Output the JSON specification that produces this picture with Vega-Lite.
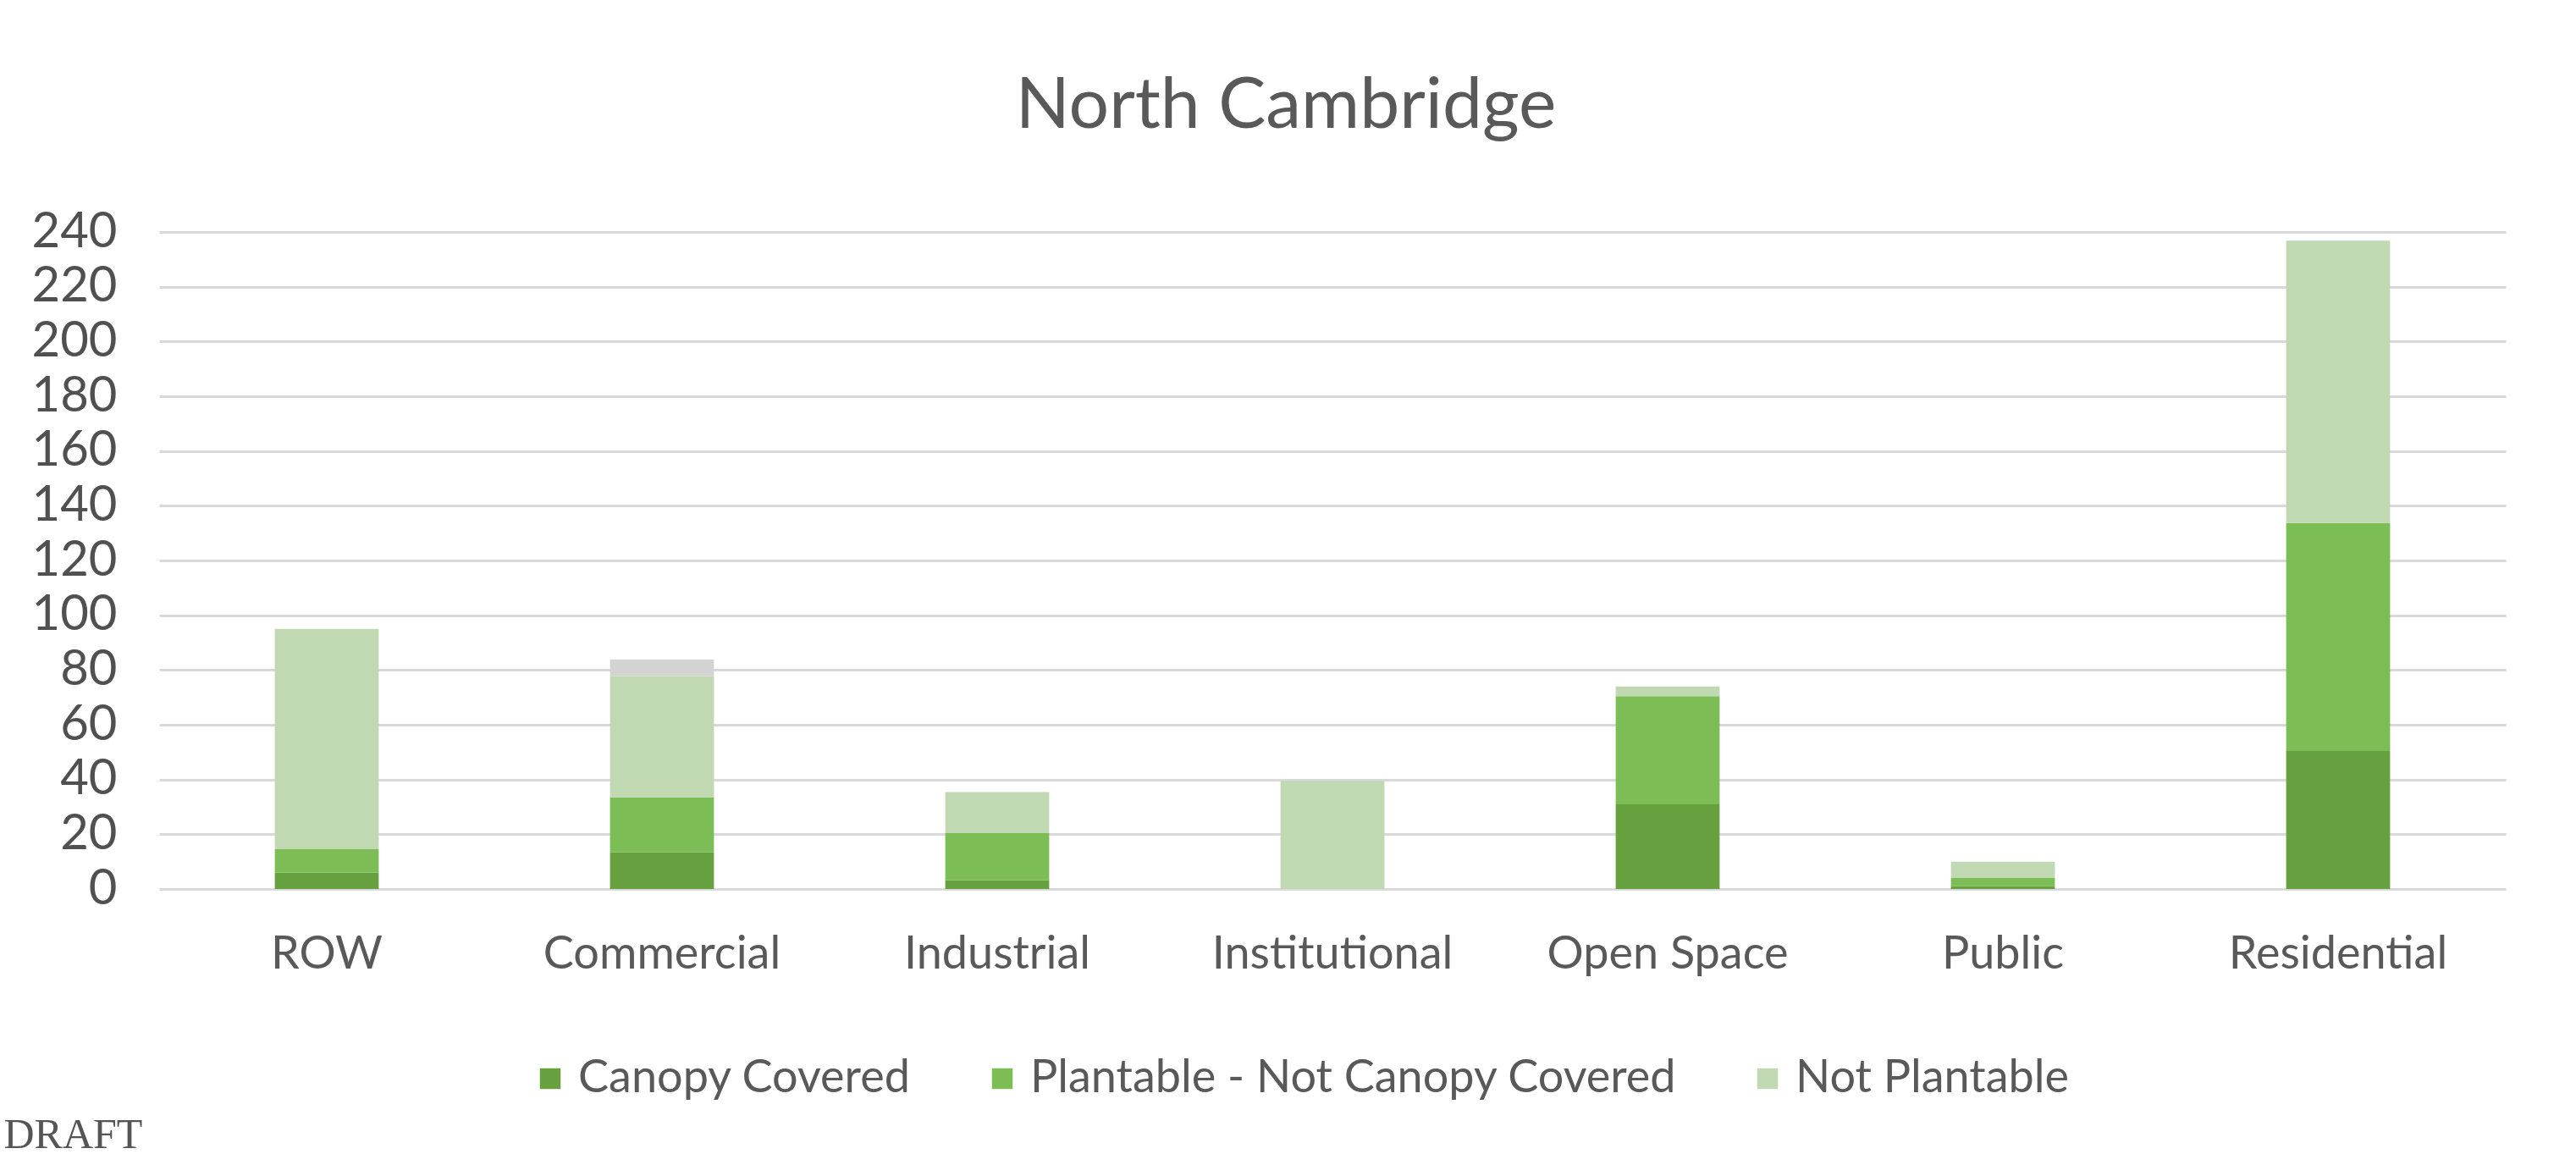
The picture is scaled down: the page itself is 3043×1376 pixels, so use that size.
{
  "$schema": "https://vega.github.io/schema/vega-lite/v6.json",
  "autosize": "none",
  "width": 2772,
  "height": 776,
  "padding": {"left": 188, "top": 274, "right": 83, "bottom": 326},
  "background": "white",
  "title": {
    "text": "North Cambridge",
    "anchor": "middle",
    "frame": "group",
    "dx": -55,
    "offset": 76,
    "font": "Lato",
    "fontSize": 84,
    "fontWeight": "normal",
    "color": "#595959"
  },
  "data": {
    "values": [
      {"use": "ROW", "cover": "Canopy Covered", "rank": 1, "acres": 6},
      {"use": "ROW", "cover": "Plantable - Not Canopy Covered", "rank": 2, "acres": 8.5},
      {"use": "ROW", "cover": "Not Plantable", "rank": 3, "acres": 80.5},
      {"use": "Commercial", "cover": "Canopy Covered", "rank": 1, "acres": 13.4},
      {"use": "Commercial", "cover": "Plantable - Not Canopy Covered", "rank": 2, "acres": 20.1},
      {"use": "Commercial", "cover": "Not Plantable", "rank": 3, "acres": 44.3},
      {"use": "Commercial", "cover": "Other", "rank": 4, "acres": 6},
      {"use": "Industrial", "cover": "Canopy Covered", "rank": 1, "acres": 3.2},
      {"use": "Industrial", "cover": "Plantable - Not Canopy Covered", "rank": 2, "acres": 17.2},
      {"use": "Industrial", "cover": "Not Plantable", "rank": 3, "acres": 15},
      {"use": "Institutional", "cover": "Canopy Covered", "rank": 1, "acres": 0},
      {"use": "Institutional", "cover": "Plantable - Not Canopy Covered", "rank": 2, "acres": 0},
      {"use": "Institutional", "cover": "Not Plantable", "rank": 3, "acres": 39.5},
      {"use": "Open Space", "cover": "Canopy Covered", "rank": 1, "acres": 30.9},
      {"use": "Open Space", "cover": "Plantable - Not Canopy Covered", "rank": 2, "acres": 39.5},
      {"use": "Open Space", "cover": "Not Plantable", "rank": 3, "acres": 3.6},
      {"use": "Public", "cover": "Canopy Covered", "rank": 1, "acres": 1},
      {"use": "Public", "cover": "Plantable - Not Canopy Covered", "rank": 2, "acres": 3},
      {"use": "Public", "cover": "Not Plantable", "rank": 3, "acres": 6},
      {"use": "Residential", "cover": "Canopy Covered", "rank": 1, "acres": 50.4},
      {"use": "Residential", "cover": "Plantable - Not Canopy Covered", "rank": 2, "acres": 83.3},
      {"use": "Residential", "cover": "Not Plantable", "rank": 3, "acres": 103.1}
    ]
  },
  "layer": [
    {
      "mark": {"type": "bar"},
      "encoding": {
        "x": {
          "field": "use",
          "type": "nominal",
          "sort": ["ROW", "Commercial", "Industrial", "Institutional", "Open Space", "Public", "Residential"],
          "scale": {"paddingInner": 0.69, "paddingOuter": 0.345},
          "axis": {
            "title": "DRAFT",
            "titleAnchor": "start",
            "titleAlign": "left",
            "titleBaseline": "alphabetic",
            "titleX": -184,
            "titleY": 305,
            "titleFont": "Liberation Serif",
            "titleFontSize": 50,
            "titleFontWeight": "normal",
            "titleColor": "#555555",
            "labelAngle": 0,
            "ticks": false,
            "domain": false,
            "labelPadding": 50,
            "labelLimit": 1000,
            "labelFont": "Lato",
            "labelFontSize": 54,
            "labelColor": "#595959"
          }
        },
        "y": {
          "field": "acres",
          "type": "quantitative",
          "stack": "zero",
          "scale": {"domain": [0, 240], "nice": false},
          "axis": {
            "title": null,
            "values": [0, 20, 40, 60, 80, 100, 120, 140, 160, 180, 200, 220, 240],
            "ticks": false,
            "domain": false,
            "labelPadding": 50,
            "labelFont": "Lato",
            "labelFontSize": 58,
            "labelColor": "#505050",
            "gridColor": "#d9d9d9",
            "gridWidth": 3
          }
        },
        "color": {
          "field": "cover",
          "type": "nominal",
          "sort": ["Canopy Covered", "Plantable - Not Canopy Covered", "Not Plantable", "Other"],
          "scale": {
            "domain": ["Canopy Covered", "Plantable - Not Canopy Covered", "Not Plantable", "Other"],
            "range": ["#67a03f", "#7cbd55", "#c1d9b2", "#d3d3d3"]
          },
          "legend": {
            "title": null,
            "values": ["Canopy Covered", "Plantable - Not Canopy Covered", "Not Plantable"],
            "orient": "none",
            "direction": "horizontal",
            "legendX": 435,
            "legendY": 973,
            "symbolType": "square",
            "symbolSize": 600,
            "symbolStrokeWidth": 0,
            "labelFont": "Lato",
            "labelFontSize": 54,
            "labelColor": "#595959",
            "labelOffset": 6,
            "columnPadding": 80,
            "labelLimit": 1000
          }
        },
        "order": {"field": "rank", "type": "quantitative", "sort": "ascending"}
      }
    }
  ],
  "config": {
    "view": {"stroke": null}
  }
}
